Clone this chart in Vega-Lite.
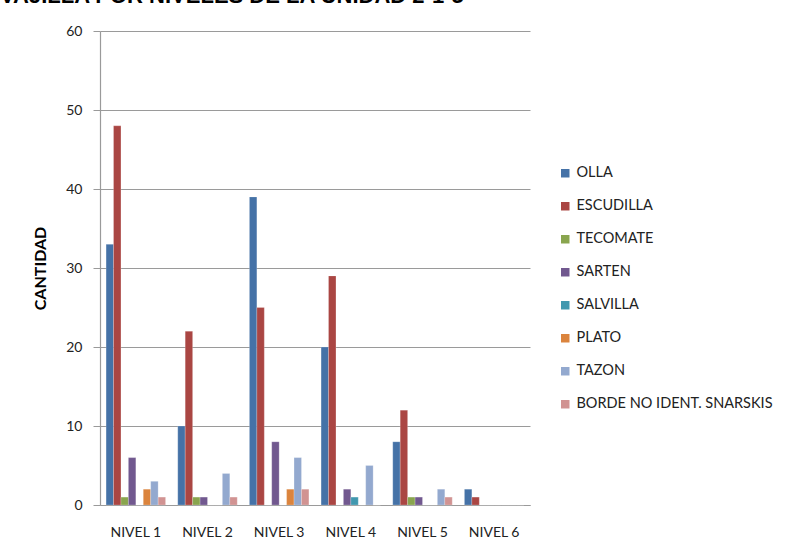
{
  "$schema": "https://vega.github.io/schema/vega-lite/v6.json",
  "autosize": "none",
  "width": 430,
  "height": 474,
  "padding": {"left": 100, "top": 31, "right": 257, "bottom": 49},
  "background": "white",
  "title": {
    "text": "VAJILLA POR NIVELES DE LA UNIDAD 2-1-5",
    "anchor": "start",
    "frame": "group",
    "font": "Liberation Sans",
    "fontSize": 22,
    "fontWeight": "bold",
    "color": "#000000",
    "dx": -100,
    "dy": 13,
    "offset": 12,
    "baseline": "alphabetic"
  },
  "data": {
    "values": [
      {"nivel": "NIVEL 1", "tipo": "OLLA", "cantidad": 33},
      {"nivel": "NIVEL 1", "tipo": "ESCUDILLA", "cantidad": 48},
      {"nivel": "NIVEL 1", "tipo": "TECOMATE", "cantidad": 1},
      {"nivel": "NIVEL 1", "tipo": "SARTEN", "cantidad": 6},
      {"nivel": "NIVEL 1", "tipo": "SALVILLA", "cantidad": 0},
      {"nivel": "NIVEL 1", "tipo": "PLATO", "cantidad": 2},
      {"nivel": "NIVEL 1", "tipo": "TAZON", "cantidad": 3},
      {"nivel": "NIVEL 1", "tipo": "BORDE NO IDENT. SNARSKIS", "cantidad": 1},
      {"nivel": "NIVEL 2", "tipo": "OLLA", "cantidad": 10},
      {"nivel": "NIVEL 2", "tipo": "ESCUDILLA", "cantidad": 22},
      {"nivel": "NIVEL 2", "tipo": "TECOMATE", "cantidad": 1},
      {"nivel": "NIVEL 2", "tipo": "SARTEN", "cantidad": 1},
      {"nivel": "NIVEL 2", "tipo": "SALVILLA", "cantidad": 0},
      {"nivel": "NIVEL 2", "tipo": "PLATO", "cantidad": 0},
      {"nivel": "NIVEL 2", "tipo": "TAZON", "cantidad": 4},
      {"nivel": "NIVEL 2", "tipo": "BORDE NO IDENT. SNARSKIS", "cantidad": 1},
      {"nivel": "NIVEL 3", "tipo": "OLLA", "cantidad": 39},
      {"nivel": "NIVEL 3", "tipo": "ESCUDILLA", "cantidad": 25},
      {"nivel": "NIVEL 3", "tipo": "TECOMATE", "cantidad": 0},
      {"nivel": "NIVEL 3", "tipo": "SARTEN", "cantidad": 8},
      {"nivel": "NIVEL 3", "tipo": "SALVILLA", "cantidad": 0},
      {"nivel": "NIVEL 3", "tipo": "PLATO", "cantidad": 2},
      {"nivel": "NIVEL 3", "tipo": "TAZON", "cantidad": 6},
      {"nivel": "NIVEL 3", "tipo": "BORDE NO IDENT. SNARSKIS", "cantidad": 2},
      {"nivel": "NIVEL 4", "tipo": "OLLA", "cantidad": 20},
      {"nivel": "NIVEL 4", "tipo": "ESCUDILLA", "cantidad": 29},
      {"nivel": "NIVEL 4", "tipo": "TECOMATE", "cantidad": 0},
      {"nivel": "NIVEL 4", "tipo": "SARTEN", "cantidad": 2},
      {"nivel": "NIVEL 4", "tipo": "SALVILLA", "cantidad": 1},
      {"nivel": "NIVEL 4", "tipo": "PLATO", "cantidad": 0},
      {"nivel": "NIVEL 4", "tipo": "TAZON", "cantidad": 5},
      {"nivel": "NIVEL 4", "tipo": "BORDE NO IDENT. SNARSKIS", "cantidad": 0},
      {"nivel": "NIVEL 5", "tipo": "OLLA", "cantidad": 8},
      {"nivel": "NIVEL 5", "tipo": "ESCUDILLA", "cantidad": 12},
      {"nivel": "NIVEL 5", "tipo": "TECOMATE", "cantidad": 1},
      {"nivel": "NIVEL 5", "tipo": "SARTEN", "cantidad": 1},
      {"nivel": "NIVEL 5", "tipo": "SALVILLA", "cantidad": 0},
      {"nivel": "NIVEL 5", "tipo": "PLATO", "cantidad": 0},
      {"nivel": "NIVEL 5", "tipo": "TAZON", "cantidad": 2},
      {"nivel": "NIVEL 5", "tipo": "BORDE NO IDENT. SNARSKIS", "cantidad": 1},
      {"nivel": "NIVEL 6", "tipo": "OLLA", "cantidad": 2},
      {"nivel": "NIVEL 6", "tipo": "ESCUDILLA", "cantidad": 1},
      {"nivel": "NIVEL 6", "tipo": "TECOMATE", "cantidad": 0},
      {"nivel": "NIVEL 6", "tipo": "SARTEN", "cantidad": 0},
      {"nivel": "NIVEL 6", "tipo": "SALVILLA", "cantidad": 0},
      {"nivel": "NIVEL 6", "tipo": "PLATO", "cantidad": 0},
      {"nivel": "NIVEL 6", "tipo": "TAZON", "cantidad": 0},
      {"nivel": "NIVEL 6", "tipo": "BORDE NO IDENT. SNARSKIS", "cantidad": 0}
    ]
  },
  "mark": {"type": "bar", "stroke": "#ffffff", "strokeOpacity": 0.35, "strokeWidth": 0.6},
  "encoding": {
    "x": {
      "field": "nivel",
      "type": "nominal",
      "sort": null,
      "scale": {"paddingInner": 0.17, "paddingOuter": 0.085},
      "axis": {
        "title": null,
        "labelAngle": 0,
        "labelFont": "Lato",
        "labelFontSize": 14,
        "labelColor": "#222222",
        "labelPadding": 20,
        "ticks": false,
        "domainColor": "#9a9a9a",
        "domainWidth": 1.2,
        "grid": false
      }
    },
    "xOffset": {
      "field": "tipo",
      "type": "nominal",
      "sort": ["OLLA", "ESCUDILLA", "TECOMATE", "SARTEN", "SALVILLA", "PLATO", "TAZON", "BORDE NO IDENT. SNARSKIS"],
      "scale": {"paddingInner": 0, "paddingOuter": 0}
    },
    "y": {
      "field": "cantidad",
      "type": "quantitative",
      "scale": {"domain": [0, 60], "nice": false},
      "axis": {
        "title": "CANTIDAD",
        "titleFont": "Lato",
        "titleFontSize": 16,
        "titleFontWeight": "bold",
        "titleColor": "#000000",
        "titlePadding": 17,
        "values": [0, 10, 20, 30, 40, 50, 60],
        "labelFont": "Lato",
        "labelFontSize": 14,
        "labelColor": "#222222",
        "labelPadding": 11,
        "tickSize": 7,
        "tickColor": "#9a9a9a",
        "domainColor": "#9a9a9a",
        "domainWidth": 1.2,
        "gridColor": "#9a9a9a",
        "gridWidth": 1
      }
    },
    "color": {
      "field": "tipo",
      "type": "nominal",
      "sort": ["OLLA", "ESCUDILLA", "TECOMATE", "SARTEN", "SALVILLA", "PLATO", "TAZON", "BORDE NO IDENT. SNARSKIS"],
      "scale": {
        "domain": ["OLLA", "ESCUDILLA", "TECOMATE", "SARTEN", "SALVILLA", "PLATO", "TAZON", "BORDE NO IDENT. SNARSKIS"],
        "range": ["#4572A7", "#AA4643", "#89A54E", "#71588F", "#4198AF", "#DB843D", "#93A9CF", "#D19392"]
      },
      "legend": {
        "title": null,
        "orient": "none",
        "legendX": 458,
        "legendY": 135,
        "symbolType": "square",
        "symbolSize": 72,
        "symbolStrokeWidth": 0,
        "labelFont": "Lato",
        "labelFontSize": 14.5,
        "labelLimit": 0,
        "labelColor": "#222222",
        "rowPadding": 18,
        "labelOffset": 4
      }
    }
  },
  "config": {
    "view": {"stroke": null}
  }
}
